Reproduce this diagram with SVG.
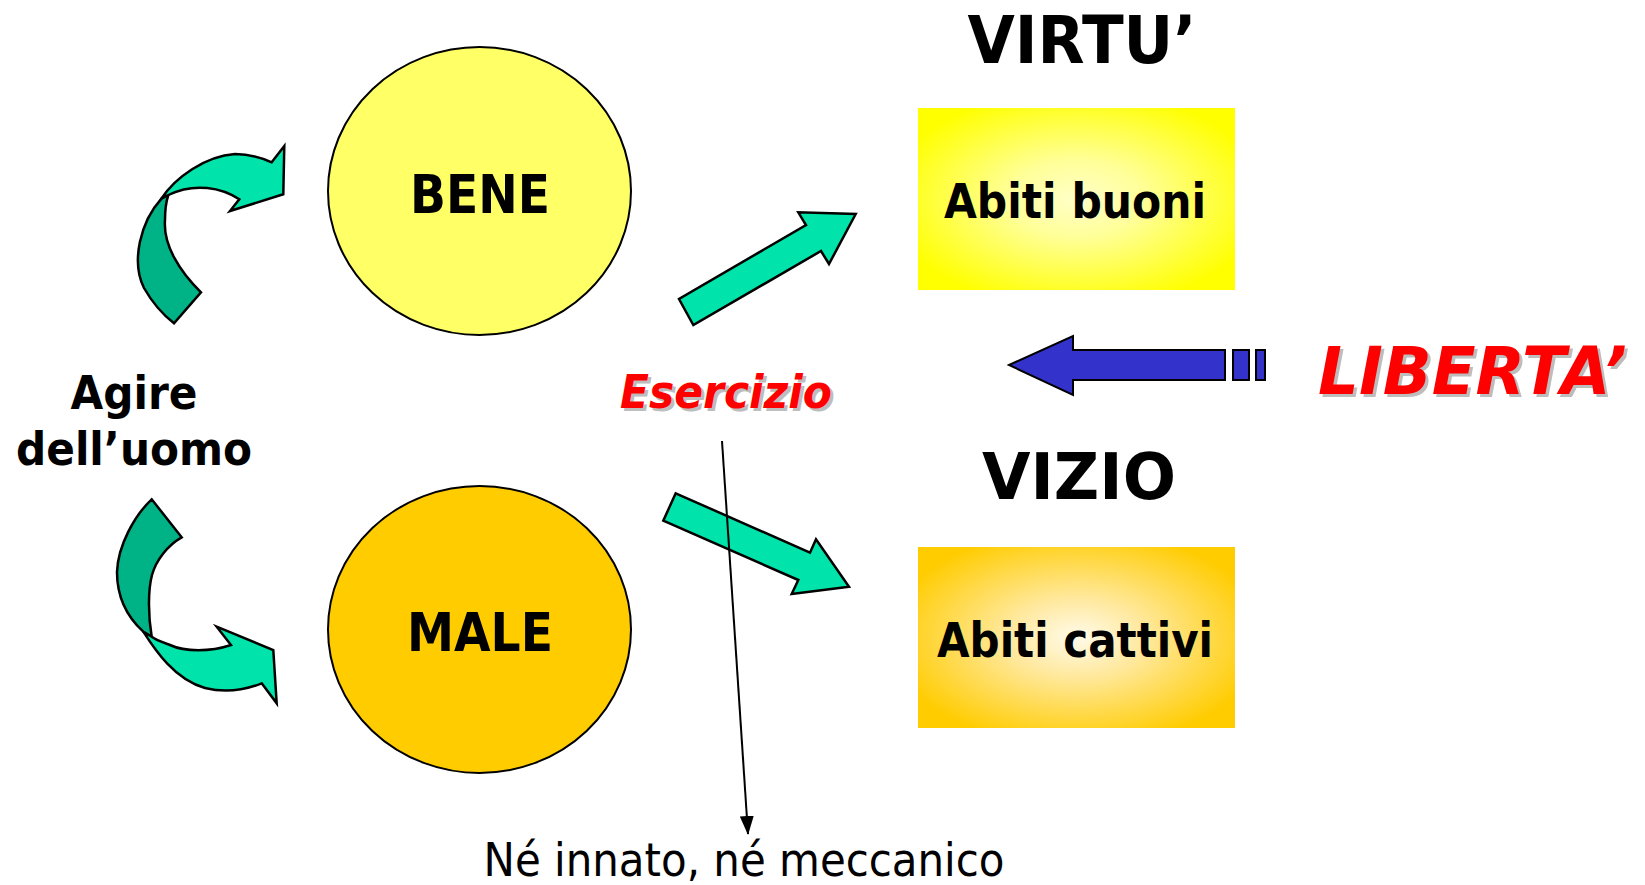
<svg xmlns="http://www.w3.org/2000/svg" width="1645" height="885" viewBox="0 0 1645 885">
<defs>
<style>
.b{font-family:"DejaVu Sans","Liberation Sans",sans-serif;font-weight:bold;fill:#000}
.r{font-family:"DejaVu Sans","Liberation Sans",sans-serif;fill:#000}
.red{font-family:"DejaVu Sans","Liberation Sans",sans-serif;font-weight:bold;font-style:italic;fill:#FF0000}
.sh{font-family:"DejaVu Sans","Liberation Sans",sans-serif;font-weight:bold;font-style:italic;fill:#BDBDBD}
.g1{fill:#00E3AA;stroke:#000;stroke-width:2.5;stroke-linejoin:miter}
.g2{fill:#00B386;stroke:#000;stroke-width:2.5;stroke-linejoin:miter}
.ell{stroke:#000;stroke-width:2}
</style>
<radialGradient id="gy" cx="50%" cy="50%" r="60%">
<stop offset="0" stop-color="#FFFFC8"/>
<stop offset="0.35" stop-color="#FFFF99"/>
<stop offset="1" stop-color="#FFFF00"/>
</radialGradient>
<radialGradient id="go" cx="50%" cy="50%" r="60%">
<stop offset="0" stop-color="#FFFBEA"/>
<stop offset="0.35" stop-color="#FFE9A0"/>
<stop offset="1" stop-color="#FFCC00"/>
</radialGradient>
<marker id="ah" markerWidth="20" markerHeight="16" refX="18" refY="7" orient="auto" markerUnits="userSpaceOnUse">
<path d="M0,0 L19,7 L0,14 Z" fill="#000"/>
</marker>
</defs>
<rect width="1645" height="885" fill="#fff"/>

<g id="bene">
<ellipse class="ell" cx="479.5" cy="191" rx="151.5" ry="144" fill="#FFFF66"/>
<text class="b" x="480" y="213" font-size="54" text-anchor="middle" textLength="140" lengthAdjust="spacingAndGlyphs">BENE</text>
</g>
<g id="male">
<ellipse class="ell" cx="479.5" cy="629.5" rx="151.5" ry="143.5" fill="#FFCC00"/>
<text class="b" x="480" y="651" font-size="54" text-anchor="middle" textLength="146" lengthAdjust="spacingAndGlyphs">MALE</text>
</g>
<g id="virtu">
<text class="b" x="1082" y="63" font-size="66" text-anchor="middle" textLength="229" lengthAdjust="spacingAndGlyphs">VIRTU’</text>
</g>
<g id="vizio">
<text class="b" x="1079" y="499" font-size="64" text-anchor="middle" textLength="194" lengthAdjust="spacingAndGlyphs">VIZIO</text>
</g>
<g id="abiti-buoni">
<rect x="918" y="108" width="317" height="182" fill="url(#gy)"/>
<text class="b" x="1075" y="218" font-size="48" text-anchor="middle" textLength="262" lengthAdjust="spacingAndGlyphs">Abiti buoni</text>
</g>
<g id="abiti-cattivi">
<rect x="918" y="547" width="317" height="181" fill="url(#go)"/>
<text class="b" x="1075" y="657" font-size="48" text-anchor="middle" textLength="276" lengthAdjust="spacingAndGlyphs">Abiti cattivi</text>
</g>
<g id="agire">
<text class="b" x="134" y="409" font-size="46" text-anchor="middle" textLength="127" lengthAdjust="spacingAndGlyphs">Agire</text>
<text class="b" x="134" y="465" font-size="46" text-anchor="middle" textLength="236" lengthAdjust="spacingAndGlyphs">dell’uomo</text>
</g>
<g id="esercizio">
<text class="sh" x="729" y="411" font-size="46" text-anchor="middle" textLength="212" lengthAdjust="spacingAndGlyphs">Esercizio</text>
<text class="red" x="726" y="408" font-size="46" text-anchor="middle" textLength="212" lengthAdjust="spacingAndGlyphs">Esercizio</text>
</g>
<g id="liberta">
<text class="sh" x="1321" y="397" font-size="66" textLength="309" lengthAdjust="spacingAndGlyphs">LIBERTA’</text>
<text class="red" x="1318" y="394" font-size="66" textLength="309" lengthAdjust="spacingAndGlyphs">LIBERTA’</text>
</g>
<g id="ne-innato">
<text class="r" x="744" y="876" font-size="47" text-anchor="middle" textLength="521" lengthAdjust="spacingAndGlyphs">Né innato, né meccanico</text>
</g>

<g id="connectors">
<path class="g2" d="M161.7,198.3 C140,222 131,262 144,288 C152,302 162,314 174,323.3 L201,292.3 C180,272 163,245 165,220 C165,210 166,202 168.3,195 Z"/>
<path class="g1" d="M161.7,198.3 C175,178 205,156 235,154 C250,154 262,158 271.7,162.3 L284.3,146 L283.3,194.3 L230,211 L239.3,199.3 C222,188 195,182 168.3,195 Z"/>
<path class="g2" d="M151.7,499.3 C135,515 118,545 117,572 C117,595 125,615 143.3,631.7 L151.7,636.7 C148,615 148,590 152,575 C156,560 168,545 181.7,537.3 Z"/>
<path class="g1" d="M143.3,631.7 C155,650 175,680 205,688 C225,693 245,690 261.7,683.3 L276.7,703.3 L273.3,650 L216.7,626.7 L231,645 C210,652 185,652 170,645 C162,642 156,640 151.7,636.7 Z"/>
<polygon class="g1" points="693.3,325 679,299 806,225 798.3,212.3 855.7,214 829,264 821,251"/>
<polygon class="g1" points="675.7,493.3 663.3,520.7 798.3,580 791.7,594 849,586.7 816,539.3 810,552.7"/>
<polygon points="1009,365 1073,336 1073,350 1225,350 1225,380 1073,380 1073,395" fill="#3333CC" stroke="#000" stroke-width="2"/>
<rect x="1233" y="350" width="16" height="30" fill="#3333CC" stroke="#000" stroke-width="2"/>
<rect x="1256" y="350" width="9" height="30" fill="#3333CC" stroke="#000" stroke-width="2"/>
<line x1="722" y1="441" x2="748" y2="834" stroke="#000" stroke-width="2" marker-end="url(#ah)"/>
</g>
</svg>
